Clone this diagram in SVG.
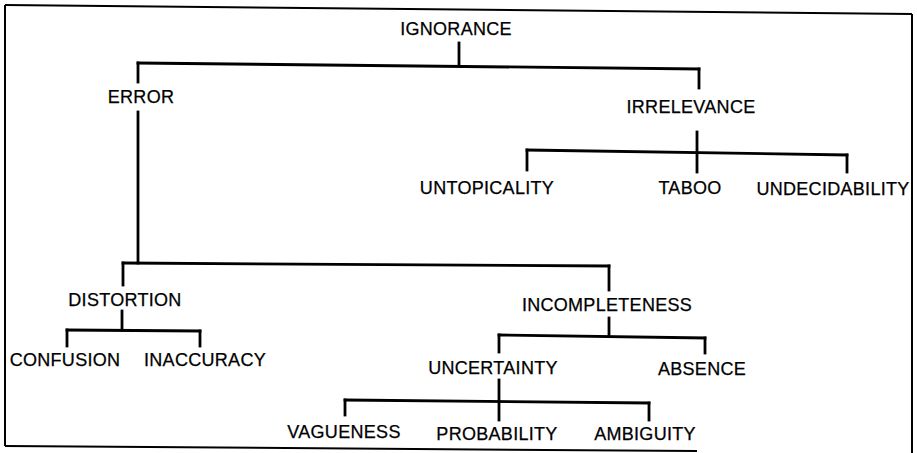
<svg xmlns="http://www.w3.org/2000/svg" width="917" height="453" viewBox="0 0 917 453">
  <style>
    .frame { fill: none; stroke: #000; stroke-width: 2; }
    .link { fill: none; stroke: #000; stroke-width: 2.8; stroke-linecap: square; }
    .label { font-family: "Liberation Sans", Arial, sans-serif; font-size: 18px; letter-spacing: 0.3px; fill: #000; stroke: #000; stroke-width: 0.25; text-anchor: middle; }
  </style>
  <rect width="917" height="453" fill="#fff"/>

  <!-- outer frame (open at the lower right) -->
  <g id="frame" class="frame">
    <line x1="5" y1="5" x2="912" y2="14"/>
    <line x1="5" y1="5" x2="5" y2="446"/>
    <line x1="5" y1="446" x2="697" y2="451"/>
    <line x1="912" y1="14" x2="912" y2="453"/>
  </g>

  <!-- tree connectors -->
  <g id="connectors" class="link">
    <line x1="459" y1="43" x2="459" y2="65"/>
    <line x1="138" y1="63" x2="699" y2="69"/>
    <line x1="138" y1="63" x2="138" y2="82"/>
    <line x1="699" y1="69" x2="699" y2="88"/>

    <line x1="138" y1="112" x2="138" y2="263"/>
    <line x1="123" y1="263" x2="609" y2="266"/>
    <line x1="123" y1="263" x2="123" y2="285"/>
    <line x1="609" y1="266" x2="609" y2="290"/>

    <line x1="122" y1="311" x2="122" y2="330"/>
    <line x1="67" y1="330" x2="200" y2="331"/>
    <line x1="67" y1="330" x2="67" y2="346"/>
    <line x1="200" y1="331" x2="200" y2="346"/>

    <line x1="697" y1="132" x2="697" y2="172"/>
    <line x1="527" y1="150" x2="847" y2="155"/>
    <line x1="527" y1="150" x2="527" y2="170"/>
    <line x1="847" y1="155" x2="847" y2="172"/>

    <line x1="609" y1="318" x2="609" y2="335"/>
    <line x1="499" y1="335" x2="705" y2="338"/>
    <line x1="499" y1="335" x2="499" y2="352"/>
    <line x1="705" y1="338" x2="705" y2="353"/>

    <line x1="499" y1="380" x2="499" y2="420"/>
    <line x1="345" y1="400" x2="649" y2="403"/>
    <line x1="345" y1="400" x2="345" y2="415"/>
    <line x1="649" y1="403" x2="649" y2="420"/>
  </g>

  <g id="ignorance"><text class="label" x="456" y="35">IGNORANCE</text></g>
  <g id="error"><text class="label" x="141" y="103">ERROR</text></g>
  <g id="irrelevance"><text class="label" x="691" y="113">IRRELEVANCE</text></g>
  <g id="untopicality"><text class="label" x="487" y="194">UNTOPICALITY</text></g>
  <g id="taboo"><text class="label" x="690" y="194">TABOO</text></g>
  <g id="undecidability"><text class="label" x="833" y="195">UNDECIDABILITY</text></g>
  <g id="distortion"><text class="label" x="125" y="306">DISTORTION</text></g>
  <g id="incompleteness"><text class="label" x="607" y="311">INCOMPLETENESS</text></g>
  <g id="confusion"><text class="label" x="65" y="366">CONFUSION</text></g>
  <g id="inaccuracy"><text class="label" x="205" y="366">INACCURACY</text></g>
  <g id="uncertainty"><text class="label" x="493" y="374">UNCERTAINTY</text></g>
  <g id="absence"><text class="label" x="702" y="375">ABSENCE</text></g>
  <g id="vagueness"><text class="label" x="344" y="438">VAGUENESS</text></g>
  <g id="probability"><text class="label" x="497" y="440">PROBABILITY</text></g>
  <g id="ambiguity"><text class="label" x="645" y="440">AMBIGUITY</text></g>
</svg>
